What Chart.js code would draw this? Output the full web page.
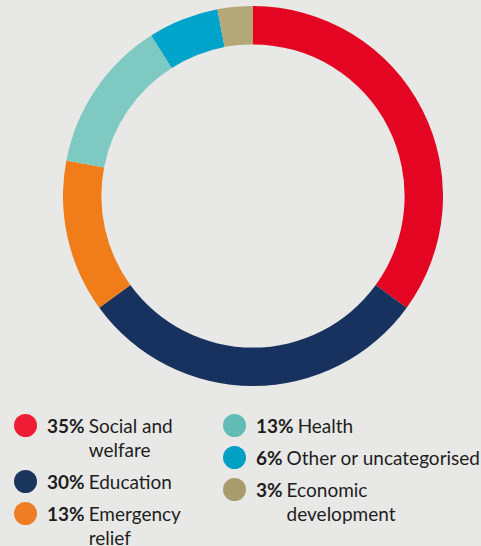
<!DOCTYPE html>
<html>
<head>
<meta charset="utf-8">
<script src="https://cdn.jsdelivr.net/npm/chart.js@4/dist/chart.umd.min.js"></script>
<style>
  html, body { margin: 0; padding: 0; }
  body { width: 481px; height: 546px; background: #e8e8e6; position: relative; overflow: hidden;
         font-family: Lato, "Open Sans", sans-serif; color: #1e1e1e; }
  #wrap { position: absolute; left: 63px; top: 6px; width: 380px; height: 380px; }
  .legend { position: absolute; top: 414px; }
  .item { display: flex; align-items: flex-start; margin-bottom: 8px; font-size: 19px; line-height: 24px; }
  .dot { width: 23px; height: 23px; border-radius: 50%; flex: none; margin-top: 0px; }
  .pct { font-weight: bold; margin-left: 10px; margin-right: 4px; }
</style>
</head>
<body>
<div id="wrap"><canvas id="chart"></canvas></div>
<div class="legend" id="col1" style="left:14px"></div>
<div class="legend" id="col2" style="left:223px"></div>
<script>
const categories = [["Social and", "welfare"], ["Education"], ["Emergency", "relief"], ["Health"], ["Other or uncategorised"], ["Economic", "development"]];
const shares = [35, 30, 13, 13, 6, 3];
const ringColors = ["#e30521", "#17325f", "#f07c1a", "#7ecac3", "#00a3c9", "#b5a878"];
const dotColors = ["#ee1c35", "#1a365d", "#ee7d26", "#62bbb4", "#009fc4", "#a89b6d"];

new Chart(document.getElementById("chart"), {
  type: "doughnut",
  data: {
    labels: categories.map(c => c.join(" ")),
    datasets: [{ data: shares, backgroundColor: ringColors, borderWidth: 0 }]
  },
  options: {
    responsive: true,
    maintainAspectRatio: true,
    animation: false,
    cutout: "79.8%",
    layout: { padding: 0 },
    plugins: { legend: { display: false }, tooltip: { enabled: false } }
  }
});

// legend, two columns of three
categories.forEach((lines, i) => {
  const col = document.getElementById(i < 3 ? "col1" : "col2");
  const item = document.createElement("div");
  item.className = "item";
  item.innerHTML =
    '<span class="dot" style="background:' + dotColors[i] + '"></span>' +
    '<span class="pct">' + shares[i] + '%</span>' +
    '<span>' + lines.join("<br>") + '</span>';
  col.appendChild(item);
});
</script>
</body>
</html>
